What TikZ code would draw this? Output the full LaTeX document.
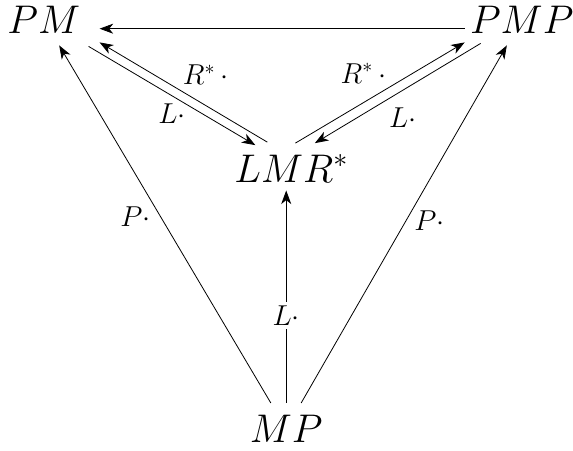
\RequirePackage{fix-cm}
\documentclass[tikz,border=0pt]{standalone}
\usepackage{amsmath}
\usepackage{amssymb}
\usepackage{tikz}
\usetikzlibrary{positioning,arrows.meta,calc}

\begin{document}
\begin{tikzpicture}[>={Stealth[length=6.8pt,width=5pt,inset=2pt]},
  obj/.style={anchor=base, inner sep=6pt, font=\fontsize{20}{24}\selectfont},
  lbl/.style={inner sep=2pt, font=\fontsize{14.4}{17}\selectfont}]
  \useasboundingbox (0,0) rectangle (10.07,-7.91);

  \node[obj] (pm) at (0.77,-0.58) {$PM$};
  \node[obj] (pmp) at (9.17,-0.58) {$PMP$};
  \node[obj] (lmr) at (5.12,-3.20) {$LMR^*$};
  \node[obj] (mp) at (5.03,-7.78) {$MP$};

  \draw[->, shorten >=3.5pt, shorten <=-3.5pt] (pmp.mid west) -- (pm.mid east);

  \draw[->] ([xshift=-12pt]lmr.north) -- ([xshift=3.5pt,yshift=1.5pt]pm.south east)
    node[lbl, pos=0.53, above right] {$R^*\,\cdot$};
  \draw[->] ([xshift=-2pt,yshift=-0.5pt]pm.south east) -- ([xshift=-18pt,yshift=-1.5pt]lmr.north)
    node[lbl, midway, below=2pt] {$L\cdot$};

  \draw[->] ([xshift=2pt,yshift=-0.5pt]lmr.north) -- ([xshift=3.5pt,yshift=1.5pt]pmp.south west)
    node[lbl, pos=0.55, above left, xshift=1pt] {$R^*\,\cdot$};
  \draw[->] ([xshift=11.5pt,yshift=1pt]pmp.south west) -- ([xshift=11.75pt,yshift=-0.5pt]lmr.north)
    node[lbl, midway, below=5pt, xshift=2.5pt] {$L\cdot$};

  \draw[->, shorten >=-2pt] (mp.north) -- (mp.north |- lmr.south)
    node[lbl, pos=0.42, fill=white] {$L\cdot$};
  \draw[->] (mp) -- (pm) node[lbl, pos=0.52, left=3pt] {$P\cdot$};
  \draw[->] (mp) -- (pmp) node[lbl, pos=0.51, right=2pt] {$P\cdot$};
\end{tikzpicture}
\end{document}
